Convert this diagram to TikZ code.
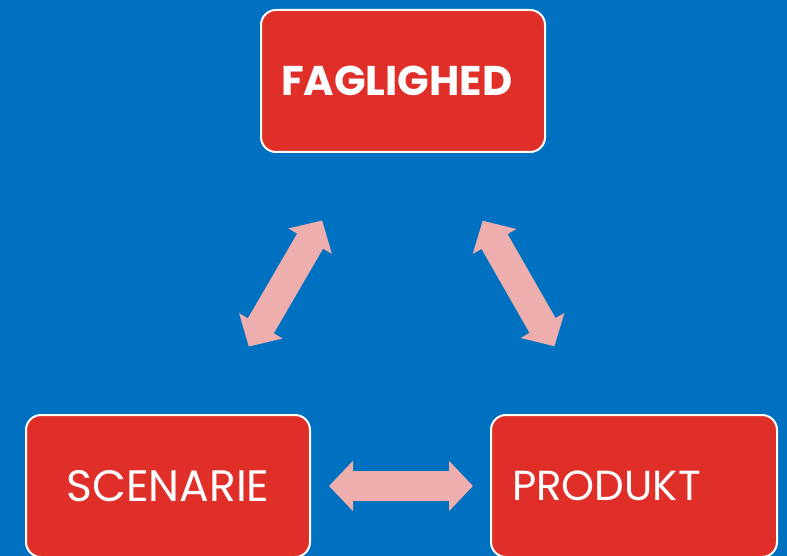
\documentclass[tikz,border=0pt]{standalone}
\usepackage{fontspec}
\setmainfont{Poppins}
\usepackage{tikz}
\usetikzlibrary{arrows.meta}
\usepackage{xcolor}
\definecolor{bgblue}{HTML}{0070C0}
\definecolor{boxred}{HTML}{DF2F28}
\definecolor{arrowpink}{HTML}{EEAEAD}
\tikzset{
	redbox/.style={draw=white, line width=2pt, fill=boxred, rounded corners=15pt, minimum width=284pt, minimum height=142pt, text=white, inner ysep=0pt},
	bigarrow/.style={draw=arrowpink, line width=30pt, {Triangle[width=49pt,length=24pt]}-{Triangle[width=49pt,length=24pt]}}
}
\begin{document}
\begin{tikzpicture}[x=1pt, y=-1pt]
	\clip (0,0) rectangle (787,556);
	\fill[bgblue] (0,0) rectangle (787,556);
	\node[redbox, text width=244pt, align=left, inner xsep=19pt, font=\fontsize{41.5}{48}\selectfont\bfseries] (fag) at (403, 81) {FAGLIGHED};
	\node[redbox, text width=244pt, align=center, inner xsep=20pt, font=\fontsize{44}{52}\selectfont] (scen) at (168, 486) {SCENARIE};
	\node[redbox, text width=244pt, align=left, inner xsep=21pt, font=\fontsize{42}{50}\selectfont] (prod) at (634, 486) {PRODUKT};
	\draw[bigarrow, shorten <=78pt, shorten >=78pt] (fag) -- (scen);
	\draw[bigarrow, shorten <=78pt, shorten >=78pt] (fag) -- (prod);
	\draw[bigarrow, shorten <=18pt, shorten >=17pt] (scen) -- (prod);
\end{tikzpicture}
\end{document}
